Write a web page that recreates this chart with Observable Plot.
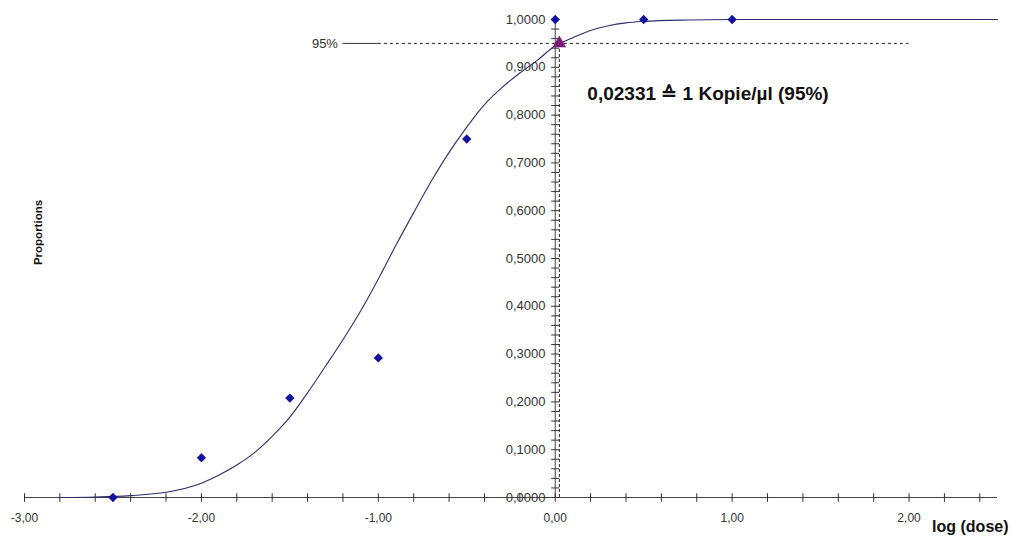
<!DOCTYPE html>
<html><head><meta charset="utf-8">
<script src="https://cdn.jsdelivr.net/npm/d3@7"></script>
<script src="https://cdn.jsdelivr.net/npm/@observablehq/plot@0.6"></script>
<style>body{margin:0;background:#fff}</style>
</head><body><div id="chart"></div>
<script>
// Observed hit rates per log(dose)
const doseLog = [-2.5, -2.0, -1.5, -1.0, -0.5, 0.0, 0.5, 1.0];
const proportions = [0.0, 0.083, 0.208, 0.292, 0.75, 1.0, 1.0, 1.0];
// Fitted curve
const curveX = [-2.8,-2.6,-2.4,-2.2,-2.0,-1.9,-1.8,-1.7,-1.6,-1.5,-1.4,-1.3,-1.2,-1.1,-1.0,-0.9,-0.8,-0.7,-0.6,-0.5,-0.4,-0.3,-0.2,-0.1,0.0,0.1,0.2,0.3,0.4,0.5,0.75,1.0,1.5,2.0,2.5];
const curveY = [0.000,0.001,0.004,0.011,0.030,0.047,0.068,0.094,0.128,0.168,0.219,0.274,0.330,0.390,0.457,0.528,0.596,0.662,0.722,0.775,0.822,0.858,0.888,0.915,0.945,0.962,0.977,0.987,0.993,0.996,0.999,1.000,1.000,1.000,1.000];
// Tick labels
const xTickValues = [-3, -2, -1, 0, 1, 2];
const yTickValues = [0, 0.1, 0.2, 0.3, 0.4, 0.5, 0.6, 0.7, 0.8, 0.9, 1.0];
const xMinorTicks = [-3,-2.8,-2.6,-2.4,-2.2,-2,-1.8,-1.6,-1.4,-1.2,-1,-0.8,-0.6,-0.4,-0.2,0,0.2,0.4,0.6,0.8,1,1.2,1.4,1.6,1.8,2,2.2,2.4];
const yMinorTicks = d3.range(0, 51).map(i => i / 50);
// 95% detection level
const level95 = 0.95;
const dose95 = 0.02331;
const unitLabel = "1 Kopie/µl";

const points = doseLog.map((x, i) => ({x, y: proportions[i]}));
const curve = curveX.map((x, i) => ({x, y: curveY[i]}));
const comma = s => s.replace(".", ",").replace("\u2212", "-");
const fmtX = d => comma(d3.format(".2f")(d));
const fmtY = d => comma(d3.format(".4f")(d));

const chart = Plot.plot({
  width: 1010, height: 541,
  marginLeft: 24, marginRight: 13, marginTop: 19, marginBottom: 44,
  style: {fontFamily: "'Liberation Sans', Arial, sans-serif", background: "#fff", color: "#333"},
  x: {domain: [-3, 2.5]},
  y: {domain: [0, 1]},
  marks: [
    Plot.ruleY([0], {x1: () => -3, x2: () => 2.5, stroke: "#444"}),
    Plot.ruleX([0], {y1: () => 0, y2: () => 1, stroke: "#444"}),
    Plot.link(xMinorTicks, {x1: d => d, x2: d => d, y1: () => -0.009, y2: () => 0.009, stroke: "#333"}),
    Plot.link(yMinorTicks, {y1: d => d, y2: d => d, x1: () => -0.023, x2: () => 0.023, stroke: "#333"}),
    Plot.axisX({ticks: xTickValues, tickSize: 0, tickPadding: 16, tickFormat: fmtX, label: null, fontSize: 12, fill: "#333"}),
    Plot.axisY({ticks: yTickValues, anchor: "left", dx: 532, tickSize: 0, tickPadding: 11, tickFormat: fmtY, label: null, fontSize: 13, fill: "#333"}),
    Plot.ruleY([level95], {x1: () => -1.2, x2: () => -1.0, stroke: "#333"}),
    Plot.ruleY([level95], {x1: () => -1.0, x2: () => 2.0, stroke: "#222", strokeDasharray: "3,3"}),
    Plot.ruleX([dose95], {y1: () => 0, y2: () => level95, stroke: "#222", strokeDasharray: "3,2"}),
    Plot.line(curve, {x: "x", y: "y", curve: "monotone-x", stroke: "#2e2e6e", strokeWidth: 1.1}),
    Plot.dot(points, {x: "x", y: "y", symbol: "diamond2", r: 4.2, fill: "#1212a0", stroke: "none"}),
    Plot.dot([{x: dose95, y: level95}], {x: "x", y: "y", symbol: "triangle", r: 5, fill: "#7b1c77"}),
    Plot.text([level95], {x: () => -1.2, y: d => d, text: d => `${Math.round(d * 100)}%`, textAnchor: "end", dx: -5, fontSize: 13, fill: "#333"}),
    Plot.text([{x: dose95, y: level95}], {x: "x", y: "y", text: d => `${comma(String(d.x))} \u2259 ${unitLabel} (${Math.round(d.y * 100)}%)`, textAnchor: "start", dx: 28, dy: 51, fontWeight: "bold", fontSize: 19, fill: "#111"}),
    Plot.text(["Proportions"], {frameAnchor: "left", textAnchor: "middle", rotate: -90, dx: 14, dy: -26, fontWeight: "bold", fontSize: 11.5, fill: "#111"}),
    Plot.text(["log (dose)"], {frameAnchor: "bottom-right", textAnchor: "end", dx: 11, dy: 34, fontWeight: "bold", fontSize: 16, fill: "#111"})
  ]
});
document.getElementById("chart").appendChild(chart);
</script>
</body></html>
